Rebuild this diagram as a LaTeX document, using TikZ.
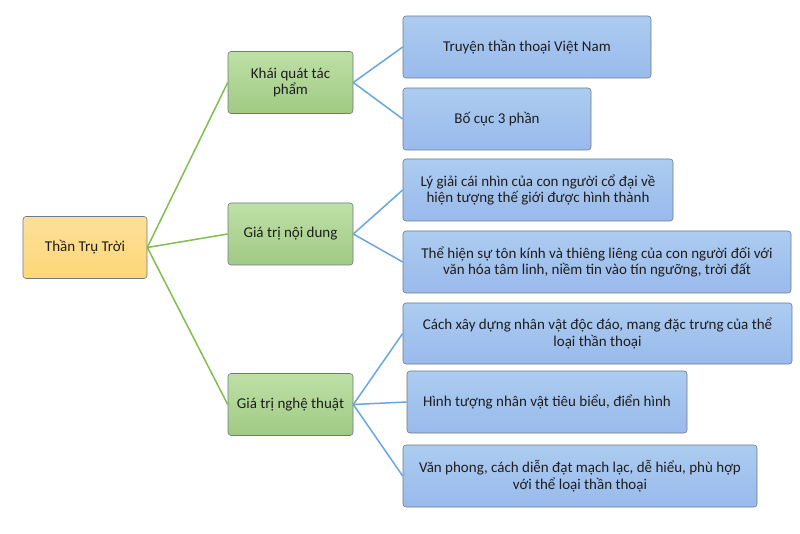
\documentclass[tikz,border=0pt]{standalone}
\usepackage{fontspec}
\setmainfont{Carlito}
\definecolor{rootTop}{RGB}{254,222,156}
\definecolor{rootBot}{RGB}{253,216,118}
\definecolor{greenTop}{RGB}{190,224,166}
\definecolor{greenBot}{RGB}{160,202,132}
\definecolor{blueTop}{RGB}{172,204,240}
\definecolor{blueBot}{RGB}{153,186,236}
\definecolor{boxLine}{RGB}{110,122,134}
\definecolor{greenLink}{RGB}{128,190,80}
\definecolor{blueLink}{RGB}{104,166,226}
\definecolor{boxText}{RGB}{30,30,30}
\tikzset{
  mapbox/.style={draw=boxLine, line width=0.6pt, rounded corners=3pt,
    inner sep=0pt, minimum height=62pt, align=center, text=boxText,
    font=\fontsize{15}{16.5}\selectfont},
  rootbox/.style={mapbox, top color=rootTop, bottom color=rootBot, minimum width=124pt},
  mainbox/.style={mapbox, top color=greenTop, bottom color=greenBot, minimum width=125pt},
  leafbox/.style={mapbox, top color=blueTop, bottom color=blueBot},
  greenlink/.style={draw=greenLink, line width=1.5pt},
  bluelink/.style={draw=blueLink, line width=1.5pt}
}
\begin{document}
\begin{tikzpicture}[x=1pt,y=-1pt]
% page frame
\useasboundingbox (0,0) rectangle (800,534);

% Drawing root node
\node[rootbox] (root) at (85,247.5) {Thần Trụ Trời};

% Drawing main branches
\node[mainbox] (tongquat) at (290.5,82.5) {Khái quát tác\\phẩm};
\node[mainbox] (noidung) at (290.5,234) {Giá trị nội dung};
\node[mainbox] (nghethuat) at (290.5,404.5) {Giá trị nghệ thuật};

% Drawing leaves of branch 1
\node[leafbox, minimum width=248pt] (xuatxu) at (527,47) {Truyện thần thoại Việt Nam};
\node[leafbox, minimum width=188pt] (bocuc) at (497,119) {Bố cục 3 phần};

% Drawing leaves of branch 2
\node[leafbox, minimum width=270pt] (lygiai) at (538,190) {Lý giải cái nhìn của con người cổ đại về\\hiện tượng thế giới được hình thành};
\node[leafbox, minimum width=388pt] (tonkinh) at (597,262) {Thể hiện sự tôn kính và thiêng liêng của con người đối với\\văn hóa tâm linh, niềm tin vào tín ngưỡng, trời đất};

% Drawing leaves of branch 3
\node[leafbox, minimum width=389pt, minimum height=61pt] (nhanvat) at (597.5,333.5) {Cách xây dựng nhân vật độc đáo, mang đặc trưng của thể\\loại thần thoại};
\node[leafbox, minimum width=280pt] (hinhtuong) at (547,402) {Hình tượng nhân vật tiêu biểu, điển hình};
\node[leafbox, minimum width=354pt] (vanphong) at (580,476) {Văn phong, cách diễn đạt mạch lạc, dễ hiểu, phù hợp\\với thể loại thần thoại};

% Drawing green connectors
\foreach \m in {tongquat,noidung,nghethuat}
  \draw[greenlink] (root.east) -- (\m.west);

% Drawing blue connectors
\foreach \g/\l in {tongquat/xuatxu,tongquat/bocuc,noidung/lygiai,noidung/tonkinh,nghethuat/nhanvat,nghethuat/hinhtuong,nghethuat/vanphong}
  \draw[bluelink] (\g.east) -- (\l.west);
\end{tikzpicture}
\end{document}
